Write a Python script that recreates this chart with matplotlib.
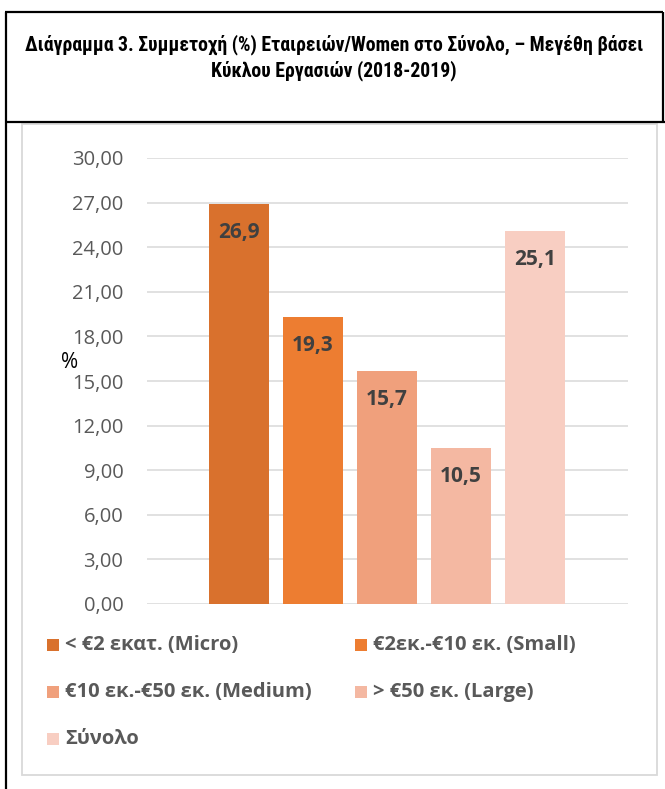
import matplotlib
matplotlib.use("Agg")
import matplotlib.pyplot as plt
from matplotlib import font_manager as fm
from matplotlib.patches import Rectangle
from matplotlib.lines import Line2D

# ---------------- data ----------------
series_labels = ["< €2 εκατ. (Micro)", "€2εκ.-€10 εκ. (Small)",
                 "€10 εκ.-€50 εκ. (Medium)", "> €50 εκ. (Large)", "Σύνολο"]
values = [26.9, 19.3, 15.7, 10.5, 25.1]
value_labels = ["26,9", "19,3", "15,7", "10,5", "25,1"]
yticks = [0, 3, 6, 9, 12, 15, 18, 21, 24, 27, 30]
ytick_labels = ["0,00", "3,00", "6,00", "9,00", "12,00", "15,00", "18,00",
                "21,00", "24,00", "27,00", "30,00"]
title_lines = ["Διάγραμμα 3. Συμμετοχή (%) Εταιρειών/Women στο Σύνολο, – Μεγέθη βάσει",
               "Κύκλου Εργασιών (2018-2019)"]
colors = ["#D9712D", "#ED7D31", "#F0A07C", "#F4B8A2", "#F8CEC2"]

W, H = 665, 789
fig = plt.figure(figsize=(W / 100, H / 100), dpi=100)
fig.patch.set_facecolor("white")

def fx(px):
    return px / W

def fy(py):
    return 1 - py / H

names = {f.name for f in fm.fontManager.ttflist}
body_font = ["Open Sans", "DejaVu Sans"]
title_kw = {}
cand = [n for n in ["Roboto Condensed", "Liberation Sans Narrow", "Open Sans Condensed"] if n in names]
if cand:
    title_kw = dict(family=[cand[0], "DejaVu Sans"], fontsize=14.2)
else:
    has_cond = any(f.name == "DejaVu Sans" and f.stretch in ("condensed", "semi-condensed", 500)
                   for f in fm.fontManager.ttflist)
    if has_cond:
        title_kw = dict(family=["DejaVu Sans"], fontstretch="condensed", fontsize=12.5)
    else:
        title_kw = dict(family=["Roboto", "DejaVu Sans"], fontsize=12.5)

# ---------------- frames ----------------
blk = dict(color="black", lw=1.6, transform=fig.transFigure, solid_capstyle="butt")
fig.add_artist(Line2D([fx(5), fx(663)], [fy(12), fy(12)], **blk))
fig.add_artist(Line2D([fx(6), fx(6)], [fy(12), fy(789)], **blk))
fig.add_artist(Line2D([fx(663), fx(663)], [fy(12), fy(122)], **blk))
fig.add_artist(Line2D([fx(5), fx(665)], [fy(122), fy(122)], **blk))
fig.add_artist(Rectangle((fx(22), fy(775)), fx(657) - fx(22), fy(124) - fy(775),
                         transform=fig.transFigure, fill=False, ec="#D9D9D9", lw=1.3))

# ---------------- title ----------------
fig.text(fx(334), fy(45), title_lines[0], ha="center", va="center", weight="bold",
         color="black", **title_kw)
fig.text(fx(334), fy(71), title_lines[1], ha="center", va="center", weight="bold",
         color="black", **title_kw)

# ---------------- axes ----------------
ax = fig.add_axes([fx(147), fy(604), fx(628) - fx(147), fy(158) - fy(604)])
x = list(range(len(values)))
bars = ax.bar(x, values, width=0.8, color=colors, zorder=3)
ax.set_xlim(-1.243, 5.257)
ax.set_ylim(0, 30)
ax.set_yticks(yticks)
ax.set_yticklabels(ytick_labels, family=body_font, fontsize=14.5, color="#595959")
ax.tick_params(axis="y", length=0, pad=17)
ax.set_xticks([])
for s in ax.spines.values():
    s.set_visible(False)
ax.grid(axis="y", color="#D9D9D9", lw=1.1, zorder=0)
ax.set_facecolor("none")

for xi, v, lab in zip(x, values, value_labels):
    ax.annotate(lab, (xi, v), xytext=(0, -20.5), textcoords="offset points",
                ha="center", va="center", weight="bold", fontsize=15,
                family=body_font, color="#404040")

fig.text(fx(70), fy(362), "%", ha="center", va="center", fontsize=15,
         family=body_font, color="black")

# ---------------- legend ----------------
pos = [(47, 645), (355, 645), (47, 692), (355, 692), (47, 739)]
for (lx, ly), c, lab in zip(pos, colors, series_labels):
    fig.add_artist(Rectangle((fx(lx), fy(ly + 6)), fx(12), 12 / H,
                             transform=fig.transFigure, color=c, lw=0))
    fig.text(fx(lx + 18), fy(ly), lab, ha="left", va="center", weight="bold",
             fontsize=14.5, family=body_font, color="#595959")

fig.savefig("out.png", dpi=100)
